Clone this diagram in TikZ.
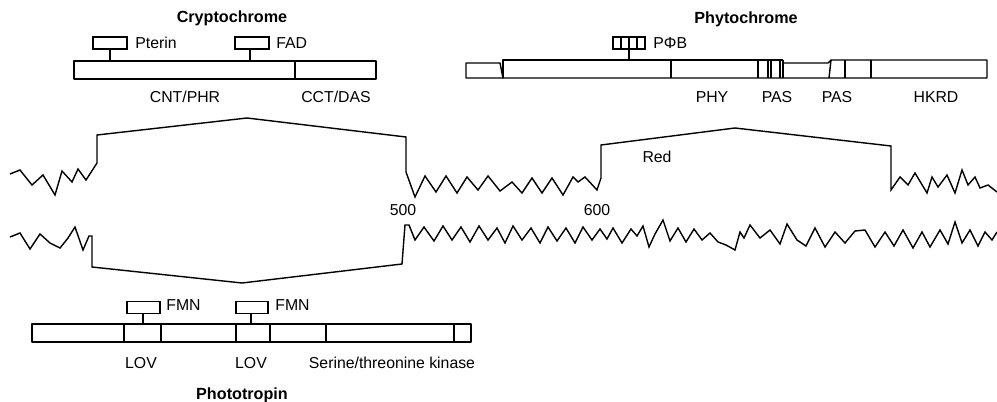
\documentclass[tikz,border=0pt]{standalone}
\usepackage{fontspec}
\setmainfont{Liberation Sans}
\usepackage{tikz}
\usetikzlibrary{positioning}

\tikzset{
  prot/.style={line width=0.8pt, line join=round},
  chain/.style={line width=0.8pt, line join=miter},
  lbl/.style={font=\fontsize{9}{10}\selectfont, inner sep=0pt},
  ttl/.style={font=\fontsize{9.2}{10}\selectfont\bfseries, inner sep=0pt},
  cbox/.style={draw, line width=0.8pt, inner sep=0pt, minimum height=0.24cm}
}

\begin{document}
\begin{tikzpicture}[x=0.02cm, y=-0.02cm]
        \useasboundingbox (0,0) rectangle (997,402);

        % Cryptochrome
        \node[ttl] (crytitle) at (232,18) {Cryptochrome};
        \draw[prot] (74,61) rectangle (376,79);
        \draw[prot] (295,61) -- (295,79);
        \node[cbox, minimum width=0.68cm] (pterin) at (110,43) {};
        \node[cbox, minimum width=0.68cm] (fad) at (252,43) {};
        \coordinate (pterinstem) at (110,61);
        \coordinate (fadstem) at (250,61);
        \draw[prot] (pterin.south -| pterinstem) -- (pterinstem);
        \draw[prot] (fad.south -| fadstem) -- (fadstem);
        \node[lbl, anchor=west] (pterinlbl) at (135,43) {Pterin};
        \node[lbl, anchor=west] (fadlbl) at (276,43) {FAD};
        \node[lbl] (cnt) at (185,97) {CNT/PHR};
        \node[lbl] (cct) at (336,97) {CCT/DAS};

        % Phytochrome
        \node[ttl] (phytitle) at (746,19) {Phytochrome};
        \draw[prot] (466,63) -- (500,63) -- (503,78) -- (466,78) -- cycle;
        \draw[prot] (503,78) -- (503,60) -- (783,60);
        \draw[prot] (783,63) -- (828,63) -- (831,60) -- (987,60) -- (987,78) -- (503,78);
        \draw[prot] (831,60) -- (829,78);
        \foreach \xd in {671,758,768,771,780,783,845,871}
            \draw[prot] (\xd,60) -- (\xd,78);
        \node[cbox, minimum width=0.64cm] (pfb) at (629,43) {};
        \foreach \xd in {621,637}
            \draw[prot] (\xd,37) -- (\xd,49);
        \coordinate (pfbstem) at (629,60);
        \draw[prot] (pfb.north) -- (pfbstem);
        \node[lbl, anchor=west] (pfblbl) at (653,43) {PΦB};
        \node[lbl] (phy) at (712,97) {PHY};
        \node[lbl] (pas1) at (777,97) {PAS};
        \node[lbl] (pas2) at (837,97) {PAS};
        \node[lbl] (hkrd) at (936,97) {HKRD};

        % upper chain
        \draw[chain] (10,174) -- (20,170) -- (32,185) -- (43,175) -- (55,195) -- (62,171)
            -- (72,182) -- (78,169) -- (86,180) -- (97,163) -- (97,135) -- (247,118)
            -- (406,137) -- (406,172) -- (415,197) -- (425,176) -- (436,192) -- (446,176)
            -- (457,193) -- (467,177) -- (478,190) -- (488,176) -- (500,191) -- (512,182)
            -- (522,193) -- (532,178) -- (542,193) -- (552,178) -- (563,195) -- (573,177)
            -- (578,182) -- (585,177) -- (597,190) -- (601,178) -- (601,145) -- (735,128)
            -- (891,146) -- (891,190) -- (900,177) -- (908,185) -- (915,173) -- (927,193)
            -- (932,177) -- (938,187) -- (947,175) -- (955,193) -- (962,170) -- (968,185)
            -- (975,177) -- (980,188) -- (988,185) -- (997,192);
        \node[lbl] (red) at (657,157) {Red};
        \node[lbl] (res500) at (403,210) {500};
        \node[lbl] (res600) at (597,210) {600};

        % lower chain
        \draw[chain] (10,237) -- (20,233) -- (30,249) -- (40,234) -- (50,243) -- (60,248)
            -- (68,238) -- (75,227) -- (83,250) -- (89,236) -- (92,236) -- (92,267)
            -- (242,283) -- (402,264) -- (405,225) -- (409,225) -- (415,240) -- (424,227)
            -- (434,241) -- (443,226) -- (452,240) -- (461,227) -- (470,242) -- (479,226)
            -- (488,240) -- (497,228) -- (505,243) -- (513,226) -- (522,240) -- (531,228)
            -- (540,243) -- (548,227) -- (557,241) -- (566,228) -- (575,243) -- (583,227)
            -- (592,240) -- (600,229) -- (607,239) -- (613,228) -- (622,243) -- (631,229)
            -- (637,236) -- (643,226) -- (649,247) -- (655,234) -- (663,220) -- (670,241)
            -- (678,228) -- (686,242) -- (694,229) -- (702,240) -- (710,233) -- (718,242)
            -- (726,245) -- (735,250) -- (740,232) -- (744,238) -- (750,225) -- (760,238)
            -- (770,230) -- (780,244) -- (787,224) -- (797,240) -- (806,246) -- (815,228)
            -- (825,247) -- (835,232) -- (845,243) -- (855,231) -- (865,230) -- (875,247)
            -- (885,232) -- (894,246) -- (903,230) -- (913,248) -- (922,232) -- (930,247)
            -- (940,230) -- (948,244) -- (955,222) -- (962,243) -- (970,230) -- (978,246)
            -- (985,232) -- (992,240) -- (997,232);

        % Phototropin
        \draw[prot] (32,324) rectangle (471,342);
        \foreach \xd in {124,161,236,270,326,454}
            \draw[prot] (\xd,324) -- (\xd,342);
        \node[cbox, minimum width=0.66cm] (fmna) at (143.5,307.5) {};
        \node[cbox, minimum width=0.64cm] (fmnb) at (252,307.5) {};
        \coordinate (fmnastem) at (143,324);
        \coordinate (fmnbstem) at (251,324);
        \draw[prot] (fmna.south -| fmnastem) -- (fmnastem);
        \draw[prot] (fmnb.south -| fmnbstem) -- (fmnbstem);
        \node[lbl, anchor=west] (fmnalbl) at (166,305) {FMN};
        \node[lbl, anchor=west] (fmnblbl) at (275,305) {FMN};
        \node[lbl] (lova) at (141,363) {LOV};
        \node[lbl] (lovb) at (251,363) {LOV};
        \node[lbl] (kin) at (392,363) {Serine/threonine kinase};
        \node[ttl] (pttitle) at (242,395) {Phototropin};
\end{tikzpicture}
\end{document}
